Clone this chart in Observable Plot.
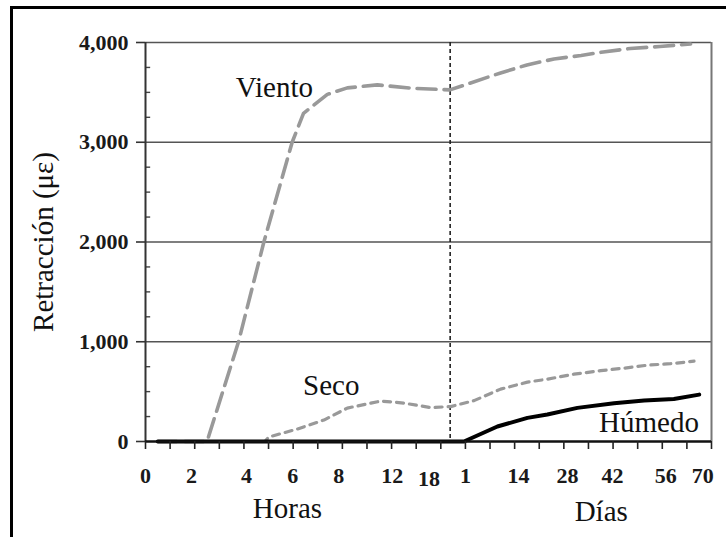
<!DOCTYPE html>
<html>
<head>
<meta charset="utf-8">
<script src="https://cdn.jsdelivr.net/npm/d3@7"></script>
<script src="https://cdn.jsdelivr.net/npm/@observablehq/plot@0.6"></script>
<style>
  html, body { margin: 0; padding: 0; background: #fff; }
  #wrap { position: relative; width: 726px; height: 537px; overflow: hidden; background: #fff; }
  #frame { position: absolute; left: 10px; top: 6px; width: 800px; height: 600px;
           border-top: 3.5px solid #000; border-left: 3.5px solid #000; pointer-events: none; }
  #wrap svg { position: absolute; left: 0; top: 0; }
</style>
</head>
<body>
<div id="wrap"><div id="frame"></div></div>
<script>
// Axis: positions are tick-slot units (24 evenly spaced ticks, 0..23)
const tickLabels = ["0", "2", "4", "6", "8", "12", "18", "1", "14", "28", "42", "56", "70"];
const tickLabelPos = [0, 1.87, 4.1, 5.98, 7.85, 10.03, 11.52, 13.0, 15.16, 17.15, 18.98, 21.14, 22.64];
const minorTickPos = d3.range(0, 24);
const yMajor = [0, 1000, 2000, 3000, 4000];
const yMinor = [250, 500, 750, 1250, 1500, 1750, 2250, 2500, 2750, 3250, 3500, 3750];
const breakPos = 12.38; // hours | days separator

// Series (x in tick-slot units, y in microstrain)
const vientoX = [0.5, 2.5, 3.78, 4.81, 5.96, 6.42, 6.78, 7.39, 8.2, 9.42, 10.9, 12.37, 14.43, 15.5, 16.6, 17.7, 18.6, 19.7, 20.9, 22.15];
const vientoY = [0, 0, 1000, 2000, 3000, 3290, 3360, 3480, 3545, 3575, 3540, 3525, 3695, 3775, 3835, 3870, 3905, 3940, 3960, 3985];

const secoX = [0.5, 4.85, 5.01, 6.17, 7.25, 8.2, 9.55, 10.5, 11.59, 12.4, 13.35, 14.43, 15.52, 16.33, 17.41, 18.5, 19.44, 20.39, 21.34, 22.29];
const secoY = [0, 0, 45, 125, 215, 335, 405, 385, 340, 350, 410, 525, 595, 625, 675, 710, 735, 765, 780, 805];

const humedoX = [0.5, 12.94, 14.3, 15.52, 16.33, 17.55, 19.04, 20.26, 21.47, 22.5];
const humedoY = [0, 0, 150, 237, 270, 337, 383, 410, 427, 470];

const toPts = (xs, ys) => xs.map((x, i) => ({x, y: ys[i]}));
const viento = toPts(vientoX, vientoY);
const seco = toPts(secoX, secoY);
const humedo = toPts(humedoX, humedoY);
const xTickData = tickLabels.map((t, i) => ({t, x: tickLabelPos[i]}));

const serif = "'Liberation Serif', 'Times New Roman', serif";

const chart = Plot.plot({
  width: 726,
  height: 537,
  marginLeft: 145,
  marginRight: 15,
  marginTop: 42,
  marginBottom: 96,
  x: {domain: [0, 23], axis: null},
  y: {domain: [0, 4000], axis: null},
  style: {fontFamily: serif, background: "transparent", overflow: "visible"},
  marks: [
    Plot.ruleY([1000, 2000, 3000, 4000], {stroke: "#555", strokeWidth: 1.6}),
    Plot.ruleY(yMinor, {x1: 0, x2: 0.21, stroke: "#444", strokeWidth: 1.4}),
    Plot.ruleX([23], {stroke: "#777", strokeWidth: 2}),
    Plot.ruleX([breakPos], {stroke: "#222", strokeDasharray: "4,3", strokeWidth: 1.6}),
    Plot.line(viento, {x: "x", y: "y", stroke: "#999", strokeWidth: 3.6, strokeDasharray: "19,8"}),
    Plot.line(seco, {x: "x", y: "y", stroke: "#999", strokeWidth: 3.2, strokeDasharray: "7,6"}),
    Plot.line(humedo, {x: "x", y: "y", stroke: "#000", strokeWidth: 4}),
    Plot.ruleX([0], {stroke: "#333", strokeWidth: 2}),
    Plot.ruleY([0], {stroke: "#111", strokeWidth: 2.6}),
    Plot.axisY({ticks: yMajor, tickSize: 9, tickPadding: 8, tickFormat: d3.format(","),
                fontSize: 22, fontWeight: "bold", fill: "#1a1a1a", stroke: "#333", strokeWidth: 1.6,
                label: null, fontFamily: serif}),
    Plot.axisX({ticks: minorTickPos, tickSize: 8, tickFormat: () => "", stroke: "#222",
                strokeWidth: 1.6, label: null}),
    Plot.text(xTickData, {x: "x", y: 0, text: "t", lineAnchor: "bottom",
                          fontSize: 22, fontWeight: "bold", fill: "#1a1a1a", fontFamily: serif,
                          dy: 41, filter: (d) => d.t !== "18"}),
    Plot.text(xTickData, {x: "x", y: 0, text: "t", lineAnchor: "bottom",
                          fontSize: 22, fontWeight: "bold", fill: "#1a1a1a", fontFamily: serif,
                          dy: 44, filter: (d) => d.t === "18"}),
    Plot.text(["Horas"], {x: 5.77, y: 0, text: (d) => d, dy: 76, lineAnchor: "bottom",
                          fontSize: 29, fill: "#111", fontFamily: serif}),
    Plot.text(["Días"], {x: 18.52, y: 0, text: (d) => d, dy: 79, lineAnchor: "bottom",
                         fontSize: 29, fill: "#111", fontFamily: serif}),
    Plot.text(["Viento"], {x: 5.24, y: 3453, text: (d) => d, lineAnchor: "bottom",
                           fontSize: 29, fill: "#111", fontFamily: serif}),
    Plot.text(["Seco"], {x: 7.55, y: 470, text: (d) => d, lineAnchor: "bottom",
                         fontSize: 29, fill: "#111", fontFamily: serif}),
    Plot.text(["Húmedo"], {x: 20.46, y: 93, text: (d) => d, lineAnchor: "bottom",
                           fontSize: 29, fill: "#111", fontFamily: serif}),
    Plot.text(["Retracción (με)"], {frameAnchor: "left", text: (d) => d, rotate: -90,
                                    dx: -93, lineAnchor: "bottom", textAnchor: "middle",
                                    fontSize: 29, fill: "#111", fontFamily: serif})
  ]
});
document.getElementById("wrap").appendChild(chart);
</script>
</body>
</html>
